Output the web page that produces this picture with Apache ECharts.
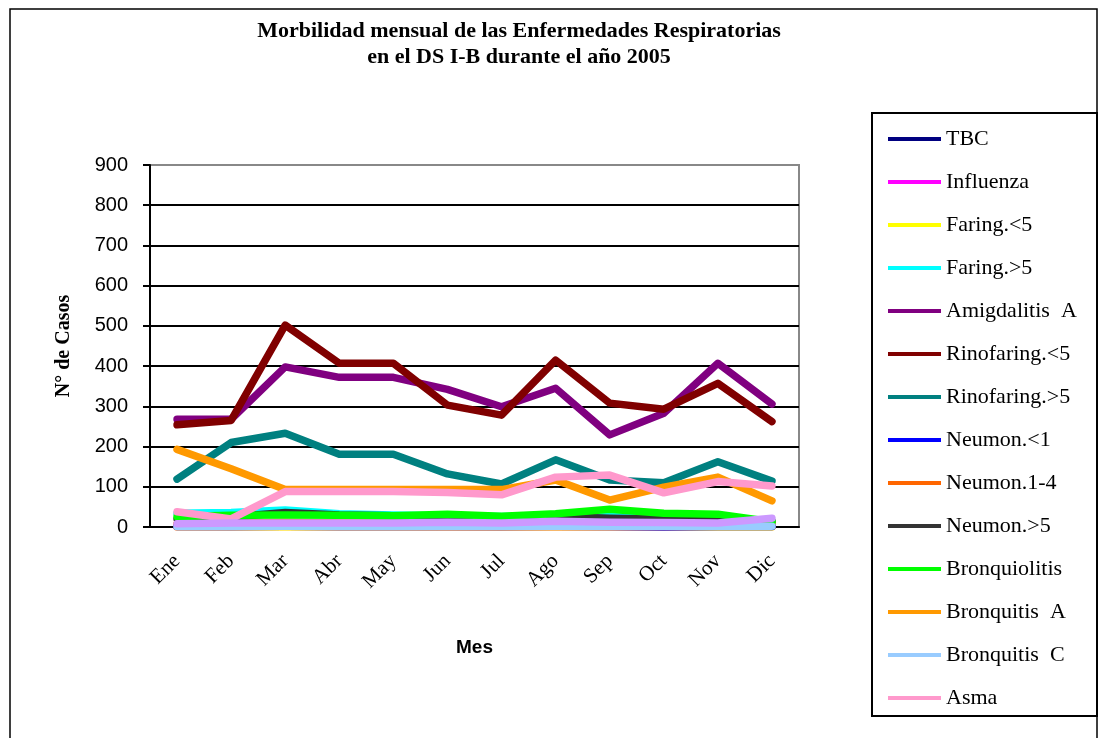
<!DOCTYPE html>
<html>
<head>
<meta charset="utf-8">
<script src="https://cdn.jsdelivr.net/npm/echarts@6/dist/echarts.min.js"></script>
<style>
  html, body { margin: 0; padding: 0; background: #fff; }
  #chart { width: 1099px; height: 738px; }
</style>
</head>
<body>
<div id="chart"></div>
<script>
// meses y marcas del eje
var meses = ['Ene','Feb','Mar','Abr','May','Jun','Jul','Ago','Sep','Oct','Nov','Dic'];
var yTicks = [0,100,200,300,400,500,600,700,800,900];

// casos por enfermedad
var tbc          = [2,1,2,1,1,2,1,1,2,1,1,1];
var influenza    = [0,0,1,0,0,0,0,0,0,0,2,1];
var faringMen5   = [0,0,0,0,0,0,0,0,0,0,0,0];
var faringMay5   = [34,36,42,33,30,28,26,28,30,22,15,12];
var amigdalitis  = [268,268,398,372,372,342,299,345,229,283,407,306];
var rinoMen5     = [254,265,502,407,407,303,278,415,308,293,357,262];
var rinoMay5     = [119,210,233,181,181,132,107,167,117,110,162,114];
var neumonMen1   = [1,1,2,1,1,1,1,2,1,0,1,1];
var neumon1a4    = [8,10,12,10,10,12,10,15,18,14,12,10];
var neumonMay5   = [20,25,36,30,28,26,24,26,22,20,18,15];
var bronquiolit  = [26,29,30,29,28,32,27,33,44,34,32,13];
var bronquitisA  = [193,145,93,93,93,93,93,117,67,99,124,65];
var bronquitisC  = [1,1,2,1,1,2,2,2,2,2,2,2];
var asma         = [38,20,88,88,88,86,80,124,129,85,113,102];
var serie15      = [8,10,10,10,10,12,10,14,12,11,10,22];

var nombres = ['TBC','Influenza','Faring.<5','Faring.>5','Amigdalitis  A','Rinofaring.<5',
  'Rinofaring.>5','Neumon.<1','Neumon.1-4','Neumon.>5','Bronquiolitis','Bronquitis  A',
  'Bronquitis  C','Asma','Serie15'];
var datos = [tbc,influenza,faringMen5,faringMay5,amigdalitis,rinoMen5,rinoMay5,
  neumonMen1,neumon1a4,neumonMay5,bronquiolit,bronquitisA,bronquitisC,asma,serie15];
var colores = ['#000080','#FF00FF','#FFFF00','#00FFFF','#800080','#800000','#008080',
  '#0000FF','#FF6600','#333333','#00FF00','#FF9900','#99CCFF','#FF99CC','#CC99FF'];

var chart = echarts.init(document.getElementById('chart'));

var series = nombres.map(function(n, i){
  return {
    name: n,
    type: 'line',
    data: datos[i],
    symbol: 'none',
    color: colores[i],
    lineStyle: { width: 7.5, color: colores[i], join: 'round', cap: 'round' }
  };
});

// lineas de division: la de arriba gris (borde del area)
var splitColors = yTicks.map(function(v, i){ return i === yTicks.length - 1 ? '#888' : '#000'; });

var option = {
  animation: false,
  backgroundColor: '#fff',
  title: {
    text: 'Morbilidad mensual de las Enfermedades Respiratorias\nen el DS I-B durante el año 2005',
    left: 514,
    top: 13,
    textAlign: 'center',
    textStyle: { fontFamily: 'Liberation Serif', fontWeight: 'bold', fontSize: 22, lineHeight: 26, color: '#000' }
  },
  legend: {
    orient: 'vertical',
    left: 883,
    top: 123,
    data: nombres.slice(0, 14),
    icon: 'rect',
    itemWidth: 53,
    itemHeight: 4,
    itemGap: 21,
    textStyle: { fontFamily: 'Liberation Serif', fontSize: 22, color: '#000', padding: [0,0,0,0] }
  },
  grid: {
    left: 150, right: 300, top: 165, bottom: 211,
    show: true, borderColor: '#888', borderWidth: 2, backgroundColor: '#fff'
  },
  xAxis: {
    type: 'category',
    data: meses,
    boundaryGap: true,
    name: 'Mes',
    nameLocation: 'middle',
    nameGap: 111,
    nameTextStyle: { fontFamily: 'Arial, Liberation Sans', fontWeight: 'bold', fontSize: 19, color: '#000' },
    axisLine: { lineStyle: { color: '#000', width: 2 } },
    axisTick: { length: 6, lineStyle: { color: '#000', width: 2 } },
    axisLabel: { rotate: 45, margin: 31, fontFamily: 'Liberation Serif', fontSize: 21, color: '#000' }
  },
  yAxis: {
    type: 'value',
    min: 0, max: 900, interval: 100,
    name: 'N° de Casos',
    nameLocation: 'middle',
    nameGap: 76,
    nameTextStyle: { fontFamily: 'Liberation Serif', fontWeight: 'bold', fontSize: 20, color: '#000' },
    axisLine: { show: true, lineStyle: { color: '#000', width: 2 } },
    axisTick: { show: true, length: 7, lineStyle: { color: '#000', width: 2 } },
    axisLabel: { margin: 22, fontFamily: 'Arial, Liberation Sans', fontSize: 20, color: '#000' },
    splitLine: { show: true, lineStyle: { color: splitColors, width: 2 } }
  },
  graphic: [
    { type: 'rect', shape: { x: 10, y: 9, width: 1087, height: 740 }, style: { fill: 'none', stroke: '#000', lineWidth: 1.5 }, silent: true },
    { type: 'rect', shape: { x: 872, y: 113, width: 225, height: 603 }, style: { fill: 'none', stroke: '#000', lineWidth: 2 }, silent: true }
  ],
  series: series
};

chart.setOption(option);
</script>
</body>
</html>
